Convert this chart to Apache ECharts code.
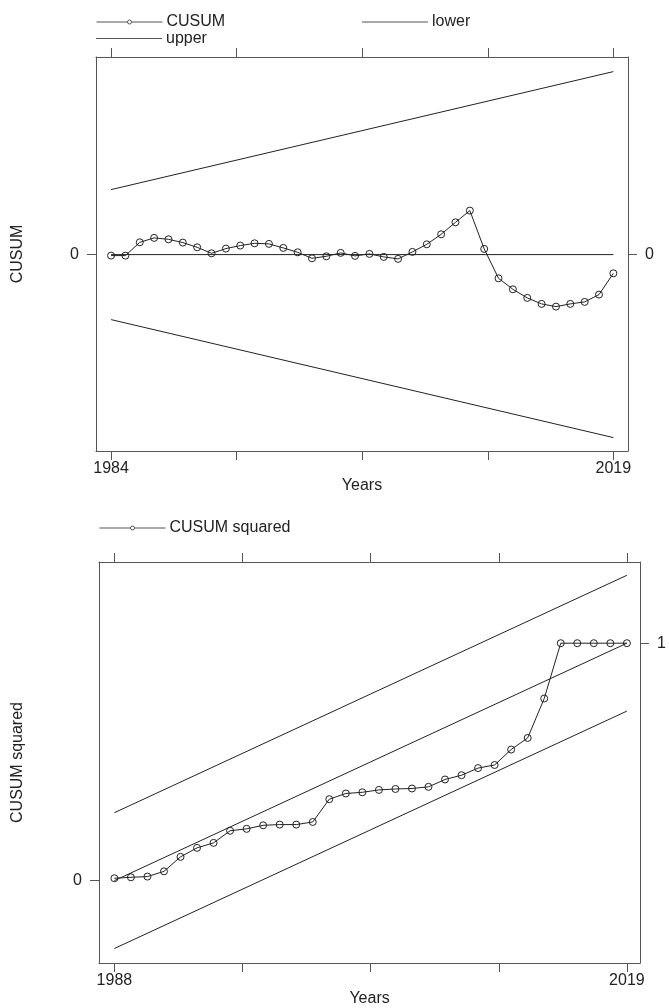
<!DOCTYPE html>
<html>
<head>
<meta charset="utf-8">
<script src="https://cdn.jsdelivr.net/npm/echarts@6/dist/echarts.min.js"></script>
<style>
  html, body { margin: 0; padding: 0; background: #fff; }
  #chart { width: 669px; height: 1008px; }
</style>
</head>
<body>
<div id="chart"></div>
<script>
// upper panel: CUSUM with 5% bounds
const cusumYears = [1984, 1985, 1986, 1987, 1988, 1989, 1990, 1991, 1992, 1993, 1994, 1995,
  1996, 1997, 1998, 1999, 2000, 2001, 2002, 2003, 2004, 2005, 2006, 2007,
  2008, 2009, 2010, 2011, 2012, 2013, 2014, 2015, 2016, 2017, 2018, 2019]
const cusumValues = [-0.1, -0.1, 1.23, 1.67, 1.53, 1.2, 0.73, 0.13, 0.6, 0.9, 1.13, 1.07,
  0.67, 0.23, -0.37, -0.17, 0.17, -0.13, 0.07, -0.23, -0.43, 0.27, 1.03, 2.03,
  3.23, 4.4, 0.57, -2.37, -3.47, -4.33, -4.93, -5.2, -4.93, -4.73, -4.0, -1.87]
const cusumBoundYears = [1984, 2019]
const cusumUpper = [6.5, 18.3]
const cusumLower = [-6.5, -18.3]
const cusumZero = [0, 0]
const cusumTicks = [1984, 1992.75, 2001.5, 2010.25, 2019]
const cusumTickLabels = [1984, 2019]

// lower panel: CUSUM of squares
const sqYears = [1988, 1989, 1990, 1991, 1992, 1993, 1994, 1995, 1996, 1997, 1998, 1999,
  2000, 2001, 2002, 2003, 2004, 2005, 2006, 2007, 2008, 2009, 2010, 2011,
  2012, 2013, 2014, 2015, 2016, 2017, 2018, 2019]
const sqValues = [0.01, 0.014, 0.017, 0.039, 0.1, 0.138, 0.159, 0.21, 0.218, 0.233, 0.236, 0.236,
  0.247, 0.343, 0.367, 0.372, 0.382, 0.386, 0.388, 0.395, 0.426, 0.444, 0.474, 0.487,
  0.552, 0.601, 0.767, 1, 1, 1, 1, 1]
const sqLineYears = [1988, 2019]
const sqCenter = [0, 1]
const sqUpper = [0.286, 1.286]
const sqLower = [-0.286, 0.714]
const sqTicks = [1988, 1995.75, 2003.5, 2011.25, 2019]
const sqTickLabels = [1988, 2019]

const ink = '#222'
const frame = '#555'
const legendInk = '#555'
const font = '"Liberation Sans", Arial, sans-serif'
const textStyle = { color: ink, fontSize: 16, fontFamily: font }

function pair(xs, ys) {
  return xs.map((x, i) => [x, ys[i]])
}

function xAxis(gridIndex, position, min, max, ticks, labels, name, gap) {
  return {
    type: 'value',
    gridIndex,
    position,
    min,
    max,
    axisLine: { show: true, onZero: false, lineStyle: { color: frame, width: 1 } },
    axisTick: { show: true, customValues: ticks, length: 9, lineStyle: { color: frame } },
    axisLabel: labels
      ? { show: true, customValues: labels, margin: 10, formatter: v => String(v), ...textStyle }
      : { show: false },
    splitLine: { show: false },
    name: name || '',
    nameLocation: 'middle',
    nameGap: gap || 26,
    nameTextStyle: textStyle
  }
}

function yAxis(gridIndex, position, min, max, ticks, name, gap) {
  return {
    type: 'value',
    gridIndex,
    position,
    min,
    max,
    axisLine: { show: true, lineStyle: { color: frame, width: 1 } },
    axisTick: { show: true, customValues: ticks, length: 9, lineStyle: { color: frame } },
    axisLabel: { show: true, customValues: ticks, margin: 17, formatter: v => String(v), ...textStyle },
    splitLine: { show: false },
    name: name || '',
    nameLocation: 'middle',
    nameRotate: 90,
    nameGap: gap || 0,
    nameTextStyle: textStyle
  }
}

function plainLine(name, xi, yi, data) {
  return {
    name,
    type: 'line',
    xAxisIndex: xi,
    yAxisIndex: yi,
    data,
    symbol: 'none',
    lineStyle: { color: ink, width: 1 },
    itemStyle: { color: ink },
    silent: true
  }
}

function markedLine(name, xi, yi, data) {
  return {
    name,
    type: 'line',
    xAxisIndex: xi,
    yAxisIndex: yi,
    data,
    symbol: 'circle',
    symbolSize: 7,
    showAllSymbol: true,
    lineStyle: { color: ink, width: 1 },
    itemStyle: { color: 'rgba(0,0,0,0)', borderColor: ink, borderWidth: 1 },
    z: 3
  }
}

const legendBase = {
  orient: 'horizontal',
  padding: 0,
  itemWidth: 66,
  itemHeight: 5,
  itemGap: 0,
  lineStyle: { color: legendInk, width: 1 },
  itemStyle: { color: '#fff', borderColor: legendInk, borderWidth: 1 },
  textStyle: { ...textStyle, padding: [0, 0, 0, -1] },
  selectedMode: false
}

// plain line keys for the bound series
const lineKey = {
  ...legendBase,
  itemHeight: 1,
  itemStyle: { color: legendInk, borderWidth: 0 }
}

const chart = echarts.init(document.getElementById('chart'))

chart.setOption({
  animation: false,
  backgroundColor: '#fff',
  legend: [
    { ...legendBase, data: ['CUSUM'], left: 96, top: 14 },
    { ...lineKey, data: [{ name: 'lower', icon: 'rect' }], left: 362, top: 14 },
    { ...lineKey, data: [{ name: 'upper', icon: 'rect' }], left: 96, top: 30.5 },
    { ...legendBase, data: ['CUSUM squared'], left: 99, top: 520 }
  ],
  grid: [
    { left: 96, top: 57, width: 532, height: 394 },
    { left: 99, top: 562, width: 543, height: 404 }
  ],
  xAxis: [
    xAxis(0, 'bottom', 1982.95, 2020.02, cusumTicks, cusumTickLabels, 'Years'),
    xAxis(0, 'top', 1982.95, 2020.02, cusumTicks, null),
    xAxis(1, 'bottom', 1987.07, 2019.8, sqTicks, sqTickLabels, 'Years', 28),
    xAxis(1, 'top', 1987.07, 2019.8, sqTicks, null)
  ],
  yAxis: [
    yAxis(0, 'left', -19.64, 19.76, [0], 'CUSUM', 70),
    yAxis(0, 'right', -19.64, 19.76, [0]),
    yAxis(1, 'left', -0.347, 1.342, [0], 'CUSUM squared', 73),
    yAxis(1, 'right', -0.347, 1.342, [1])
  ],
  series: [
    plainLine('zero', 0, 0, pair(cusumBoundYears, cusumZero)),
    markedLine('CUSUM', 0, 0, pair(cusumYears, cusumValues)),
    plainLine('lower', 0, 0, pair(cusumBoundYears, cusumLower)),
    plainLine('upper', 0, 0, pair(cusumBoundYears, cusumUpper)),
    plainLine('sqCenter', 2, 2, pair(sqLineYears, sqCenter)),
    plainLine('sqUpper', 2, 2, pair(sqLineYears, sqUpper)),
    plainLine('sqLower', 2, 2, pair(sqLineYears, sqLower)),
    markedLine('CUSUM squared', 2, 2, pair(sqYears, sqValues))
  ]
})
</script>
</body>
</html>
